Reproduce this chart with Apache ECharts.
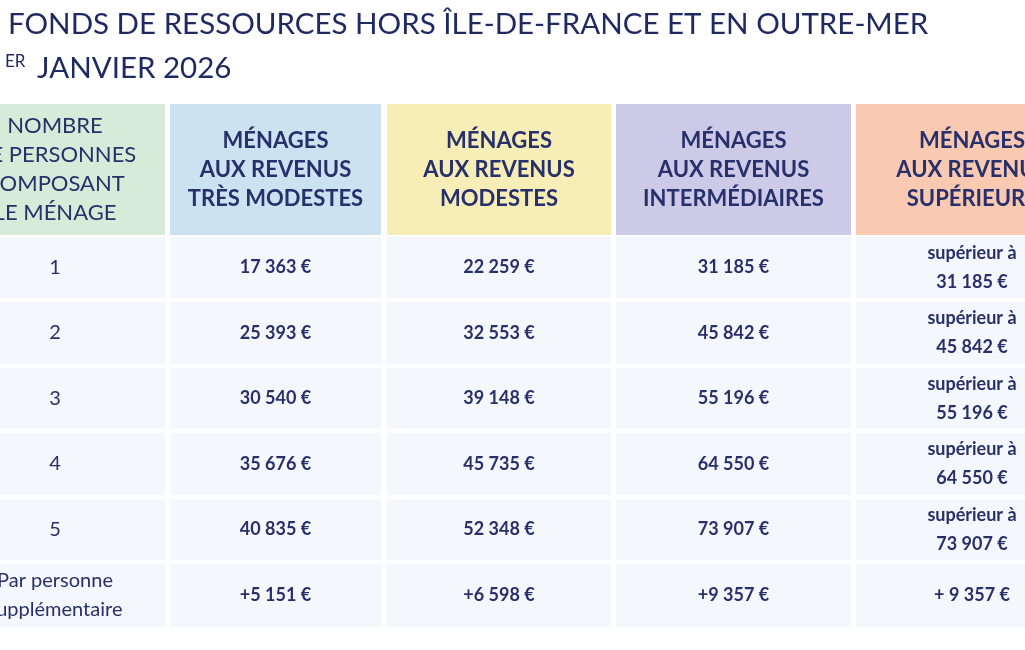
<!DOCTYPE html>
<html><head><meta charset="utf-8">
<script src="https://cdn.jsdelivr.net/npm/echarts@6/dist/echarts.min.js"></script>
<style>html,body{margin:0;padding:0;background:#fff}#c{width:1025px;height:650px}</style>
</head><body><div id="c"></div>
<script>
// contenu du tableau
const headers = [
  'NOMBRE\nDE PERSONNES\nCOMPOSANT\nLE MÉNAGE',
  'MÉNAGES\nAUX REVENUS\nTRÈS MODESTES',
  'MÉNAGES\nAUX REVENUS\nMODESTES',
  'MÉNAGES\nAUX REVENUS\nINTERMÉDIAIRES',
  'MÉNAGES\nAUX REVENUS\nSUPÉRIEURS'
];
const personnes = ['1', '2', '3', '4', '5', 'Par personne\nsupplémentaire'];
const tresModestes = ['17 363 €', '25 393 €', '30 540 €', '35 676 €', '40 835 €', '+5 151 €'];
const modestes = ['22 259 €', '32 553 €', '39 148 €', '45 735 €', '52 348 €', '+6 598 €'];
const intermediaires = ['31 185 €', '45 842 €', '55 196 €', '64 550 €', '73 907 €', '+9 357 €'];
const superieurs = ['supérieur à\n31 185 €', 'supérieur à\n45 842 €', 'supérieur à\n55 196 €',
  'supérieur à\n64 550 €', 'supérieur à\n73 907 €', '+ 9 357 €'];

// mise en page (px)
const colEdges = [[-60, 165], [170, 381], [387, 611], [616, 851], [856, 1088]];
const rowEdges = [[104, 235], [237, 298], [302, 364], [368, 429], [433, 495], [499, 560], [564, 627]];
const headColors = ['#d8ebd8', '#cbe2f1', '#f7edb6', '#cdcae8', '#f9c9b1'];
const navy = '#27306a';

const cols = [personnes, tresModestes, modestes, intermediaires, superieurs];
const data = [];
headers.forEach((h, c) => data.push([c, 0, h]));
cols.forEach((col, c) => col.forEach((v, r) => data.push([c, r + 1, v])));

const chart = echarts.init(document.getElementById('c'));
chart.setOption({
  animation: false,
  title: [
    {text: 'FONDS DE RESSOURCES HORS ÎLE-DE-FRANCE ET EN OUTRE-MER', left: 3, top: 4,
     textStyle: {fontFamily: 'Lato', fontWeight: 'normal', fontSize: 29.5, color: '#1f2a62'}},
    {text: '{s|ER} JANVIER 2026', left: 0, top: 48,
     textStyle: {fontFamily: 'Lato', fontWeight: 'normal', fontSize: 29.5, color: '#1f2a62',
       rich: {s: {fontSize: 17, verticalAlign: 'top', color: '#1f2a62', fontFamily: 'Lato', padding: [0, 4, 10, 0]}}}}
  ],
  grid: {left: 0, right: 0, top: 0, bottom: 0},
  xAxis: {type: 'value', min: 0, max: 1025, show: false},
  yAxis: {type: 'value', min: 0, max: 650, inverse: true, show: false},
  series: [{
    type: 'custom',
    data: data,
    renderItem: function (params, api) {
      const c = api.value(0), r = api.value(1);
      const t = data[params.dataIndex][2];
      const p0 = api.coord([colEdges[c][0], rowEdges[r][0]]);
      const p1 = api.coord([colEdges[c][1], rowEdges[r][1]]);
      const head = r === 0;
      const first = c === 0;
      return {
        type: 'group',
        children: [
          {type: 'rect', shape: {x: p0[0], y: p0[1], width: p1[0] - p0[0], height: p1[1] - p0[1]},
           style: {fill: head ? headColors[c] : '#f4f7fb'}},
          {type: 'text', x: first ? 55 : (p0[0] + p1[0]) / 2, y: (p0[1] + p1[1]) / 2,
           style: {text: t, align: 'center', verticalAlign: 'middle', fill: navy,
             fontFamily: 'Lato',
             fontSize: head ? 22 : (first ? 20 : 18),
             fontWeight: (head && !first) ? 'bold' : (first ? 'normal' : 'bold'),
             lineHeight: 29}}
        ]
      };
    }
  }]
});
</script></body></html>
